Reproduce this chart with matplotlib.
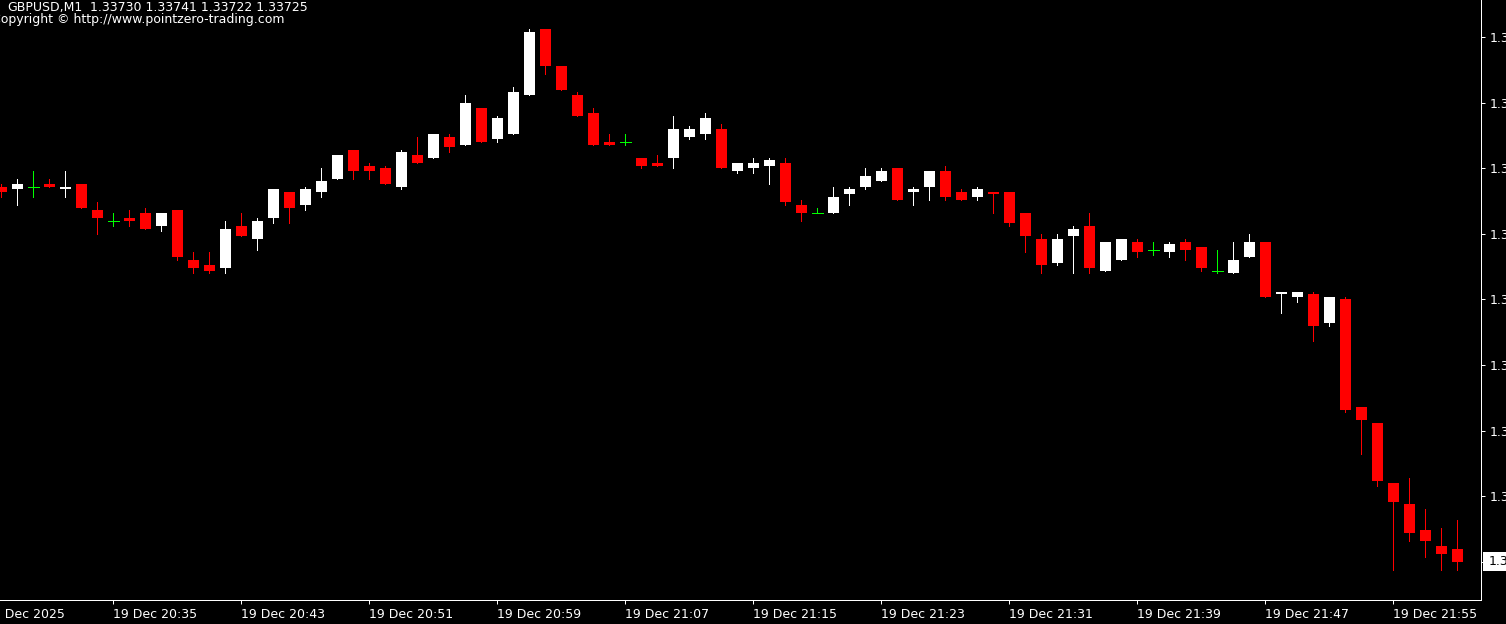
import matplotlib
matplotlib.use("Agg")
import matplotlib.pyplot as plt
from matplotlib.patches import Rectangle
from matplotlib.transforms import blended_transform_factory

# GBPUSD M1, 19 Dec 2025 20:28 .. 21:59
opens = [
    1.33868, 1.33867, 1.33868, 1.33869, 1.33867, 1.33869, 1.33859, 1.33855, 1.33856, 1.33858,
    1.33853, 1.33859, 1.33840, 1.33838, 1.33837, 1.33853, 1.33848, 1.33856, 1.33866, 1.33861,
    1.33866, 1.33871, 1.33882, 1.33876, 1.33875, 1.33868, 1.33880, 1.33879, 1.33887, 1.33884,
    1.33898, 1.33886, 1.33888, 1.33903, 1.33928, 1.33914, 1.33903, 1.33896, 1.33885, 1.33885,
    1.33879, 1.33877, 1.33879, 1.33887, 1.33888, 1.33890, 1.33874, 1.33875, 1.33876, 1.33877,
    1.33861, 1.33858, 1.33858, 1.33865, 1.33868, 1.33870, 1.33875, 1.33866, 1.33868, 1.33874,
    1.33866, 1.33864, 1.33866, 1.33866, 1.33858, 1.33848, 1.33839, 1.33849, 1.33853, 1.33836,
    1.33840, 1.33847, 1.33844, 1.33843, 1.33847, 1.33845, 1.33836, 1.33835, 1.33841, 1.33847,
    1.33827, 1.33826, 1.33827, 1.33816, 1.33825, 1.33784, 1.33778, 1.33755, 1.33747, 1.33737,
    1.33731, 1.33730]
highs = [
    1.33869, 1.33871, 1.33874, 1.33871, 1.33874, 1.33869, 1.33862, 1.33858, 1.33859, 1.33860,
    1.33858, 1.33859, 1.33843, 1.33843, 1.33855, 1.33858, 1.33856, 1.33867, 1.33866, 1.33868,
    1.33875, 1.33880, 1.33882, 1.33877, 1.33876, 1.33882, 1.33887, 1.33888, 1.33888, 1.33903,
    1.33898, 1.33895, 1.33906, 1.33928, 1.33928, 1.33914, 1.33904, 1.33898, 1.33888, 1.33888,
    1.33879, 1.33880, 1.33895, 1.33891, 1.33896, 1.33892, 1.33877, 1.33879, 1.33879, 1.33879,
    1.33863, 1.33860, 1.33868, 1.33868, 1.33875, 1.33875, 1.33875, 1.33868, 1.33874, 1.33876,
    1.33867, 1.33868, 1.33866, 1.33866, 1.33858, 1.33850, 1.33850, 1.33853, 1.33858, 1.33847,
    1.33848, 1.33848, 1.33847, 1.33847, 1.33848, 1.33845, 1.33844, 1.33847, 1.33850, 1.33847,
    1.33828, 1.33828, 1.33828, 1.33826, 1.33826, 1.33784, 1.33778, 1.33755, 1.33757, 1.33745,
    1.33738, 1.33741]
lows = [
    1.33864, 1.33861, 1.33864, 1.33868, 1.33864, 1.33860, 1.33850, 1.33853, 1.33853, 1.33852,
    1.33851, 1.33840, 1.33835, 1.33835, 1.33835, 1.33849, 1.33844, 1.33854, 1.33854, 1.33859,
    1.33864, 1.33871, 1.33871, 1.33871, 1.33869, 1.33867, 1.33877, 1.33879, 1.33881, 1.33884,
    1.33885, 1.33885, 1.33888, 1.33903, 1.33911, 1.33905, 1.33895, 1.33884, 1.33884, 1.33884,
    1.33875, 1.33876, 1.33875, 1.33886, 1.33886, 1.33875, 1.33873, 1.33873, 1.33869, 1.33861,
    1.33855, 1.33858, 1.33858, 1.33861, 1.33867, 1.33870, 1.33863, 1.33861, 1.33863, 1.33863,
    1.33863, 1.33863, 1.33858, 1.33853, 1.33843, 1.33835, 1.33838, 1.33835, 1.33835, 1.33836,
    1.33840, 1.33841, 1.33842, 1.33841, 1.33840, 1.33836, 1.33835, 1.33835, 1.33841, 1.33826,
    1.33820, 1.33824, 1.33809, 1.33815, 1.33782, 1.33766, 1.33754, 1.33722, 1.33733, 1.33727,
    1.33722, 1.33722]
closes = [
    1.33866, 1.33869, 1.33868, 1.33868, 1.33868, 1.33860, 1.33856, 1.33855, 1.33855, 1.33852,
    1.33858, 1.33841, 1.33837, 1.33836, 1.33852, 1.33849, 1.33855, 1.33867, 1.33860, 1.33867,
    1.33870, 1.33880, 1.33874, 1.33874, 1.33869, 1.33881, 1.33877, 1.33888, 1.33883, 1.33900,
    1.33885, 1.33894, 1.33904, 1.33927, 1.33914, 1.33905, 1.33895, 1.33884, 1.33884, 1.33885,
    1.33876, 1.33876, 1.33890, 1.33890, 1.33894, 1.33875, 1.33877, 1.33877, 1.33878, 1.33862,
    1.33858, 1.33858, 1.33864, 1.33867, 1.33872, 1.33874, 1.33863, 1.33867, 1.33874, 1.33864,
    1.33863, 1.33867, 1.33865, 1.33854, 1.33849, 1.33838, 1.33848, 1.33852, 1.33837, 1.33847,
    1.33848, 1.33843, 1.33844, 1.33846, 1.33844, 1.33837, 1.33836, 1.33840, 1.33847, 1.33826,
    1.33828, 1.33828, 1.33815, 1.33826, 1.33783, 1.33779, 1.33756, 1.33748, 1.33736, 1.33733,
    1.33728, 1.33725]

time_ticks = [7, 15, 23, 31, 39, 47, 55, 63, 71, 79, 87]
time_labels = ["19 Dec 20:35", "19 Dec 20:43", "19 Dec 20:51", "19 Dec 20:59",
               "19 Dec 21:07", "19 Dec 21:15", "19 Dec 21:23", "19 Dec 21:31",
               "19 Dec 21:39", "19 Dec 21:47", "19 Dec 21:55"]
first_label = "19 Dec 2025"
price_ticks = [1.33725, 1.33750, 1.33775, 1.33800, 1.33825,
               1.33850, 1.33875, 1.33900, 1.33925]

W, H = 1506, 624
PX = 0.72  # one pixel in points

plt.rcParams['font.family'] = 'DejaVu Sans'
plt.rcParams['font.size'] = 9

fig = plt.figure(figsize=(W / 100, H / 100), dpi=100, facecolor='black')
ax = fig.add_axes([0, 24 / H, 1481 / W, 600 / H])
ax.set_facecolor('black')
ax.set_xlim(-0.0625, 92.5)
y_lo, y_hi = 1.337105, 1.339391
ax.set_ylim(y_lo, y_hi)
per_px = (y_hi - y_lo) / 600

bw = 11 / 16
for i, (o, h, l, c) in enumerate(zip(opens, highs, lows, closes)):
    if c > o:
        col = 'white'
    elif c < o:
        col = '#ff0000'
    else:
        col = '#00ff00'
    ax.vlines(i, l, h, colors=col, linewidth=PX, antialiased=False)
    if c == o:
        ax.hlines(o, i - bw / 2, i + bw / 2, colors=col, linewidth=PX, antialiased=False)
    else:
        ax.bar(i, abs(c - o), bottom=min(o, c), width=bw, color=col,
               linewidth=0, antialiased=False)

for s in ['left', 'top']:
    ax.spines[s].set_visible(False)
for s in ['right', 'bottom']:
    ax.spines[s].set_color('white')
    ax.spines[s].set_linewidth(PX)

ax.yaxis.tick_right()
ax.set_yticks(price_ticks)
ax.set_yticklabels(["" if p == closes[-1] else "%.5f" % p for p in price_ticks])
ax.tick_params(axis='y', colors='white', length=3, width=PX, pad=3)
ax.set_xticks(time_ticks)
ax.set_xticklabels(time_labels, ha='left')
ax.tick_params(axis='x', colors='white', length=3, width=PX, pad=3)

# current price box
tr = blended_transform_factory(ax.transAxes, ax.transData)
ax.add_patch(Rectangle((1483 / 1481, closes[-1] - 9.5 * per_px), 40 / 1481, 19 * per_px,
                       transform=tr, facecolor='white', edgecolor='none',
                       clip_on=False, zorder=5))
ax.text(1489 / 1481, closes[-1], "%.5f" % closes[-1], transform=tr, color='black',
        va='center', ha='left', clip_on=False, zorder=6)

fig.text(-15 / W, 1 - 608 / H, first_label, color='white', va='top', ha='left')

ohlc = "%.5f %.5f %.5f %.5f" % (opens[-1], highs[-1], lows[-1], closes[-1])
fig.text(7 / W, 1 - 11 / H, "GBPUSD,M1", color='white', va='baseline')
fig.text(90 / W, 1 - 11 / H, ohlc, color='white', va='baseline')
fig.text(-8 / W, 1 - 23 / H, "Copyright \u00a9 http://www.pointzero-trading.com",
         color='white', va='baseline')

fig.savefig("out.png", dpi=100, facecolor='black')
